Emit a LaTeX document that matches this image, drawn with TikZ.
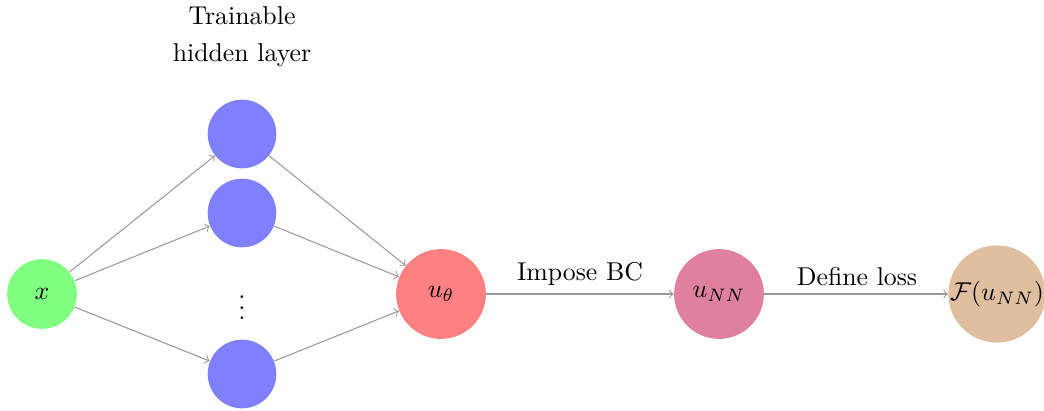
\documentclass[tikz,border=0pt]{standalone}
\usetikzlibrary{arrows}
\begin{document}
\begin{tikzpicture}[x=0.3876pt,y=-0.3876pt,
  neuron/.style={circle,draw=none,inner sep=0pt},
  conn/.style={->,draw=black!40,line width=0.4pt},
  lbl/.style={inner sep=0pt,anchor=base}]
\useasboundingbox (0,0) rectangle (1044,411);
\node[neuron,fill=green!50,minimum size=27pt] (x) at (42,294) {$x$};
\node[neuron,fill=blue!50,minimum size=26.6pt] (h1) at (242,134) {};
\node[neuron,fill=blue!50,minimum size=26.6pt] (h2) at (242,213) {};
\node (dots) at (242,300) {$\vdots$};
\node[neuron,fill=blue!50,minimum size=26.6pt] (h4) at (242,374) {};
\node[neuron,fill=red!50,minimum size=34.8pt] (ut) at (441,294) {$u_\theta$};
\node[neuron,fill=purple!50,minimum size=34.8pt] (unn) at (719,294) {$u_{NN}$};
\node[neuron,fill=brown!50,minimum size=37pt] (F) at (997,294) {$\mathcal{F}(u_{NN})$};
\node[align=center,inner sep=0pt] (title) at (242,37) {Trainable\\[2.3pt]hidden layer};
\foreach \h in {h1,h2,h4} {
  \draw[conn] (x) -- (\h);
  \draw[conn] (\h) -- (ut);
}
\draw[conn] (ut) -- (unn);
\draw[conn] (unn) -- (F);
\node[lbl] (l1) at (580,280) {Impose BC};
\node[lbl] (l2) at (857,285) {Define loss};
\end{tikzpicture}
\end{document}
